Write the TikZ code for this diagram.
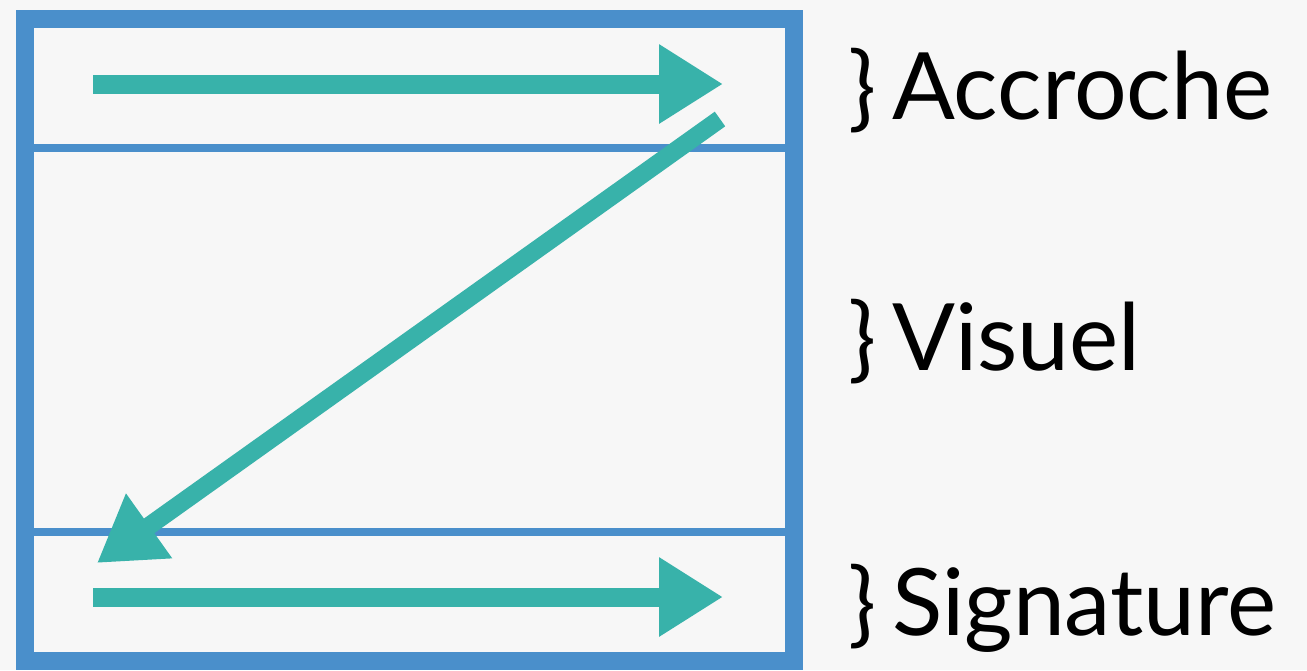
\documentclass[tikz,border=0pt]{standalone}
\usepackage{fontspec}
\setmainfont{Lato}
\usetikzlibrary{arrows.meta}
\definecolor{bg}{HTML}{F7F7F7}
\definecolor{frameblue}{HTML}{4A8FCB}
\definecolor{teal}{HTML}{38B2AA}
\begin{document}
\begin{tikzpicture}[x=1pt,y=-1pt,
  frame/.style={draw=frameblue,line width=18pt},
  sep/.style={draw=frameblue,line width=8pt},
  flow/.style={draw=teal,line width=19pt,-{Triangle[length=64pt,width=75pt]},color=teal},
  lbl/.style={anchor=base west,inner sep=0pt,font=\fontsize{93}{100}\selectfont}]
\fill[bg] (0,0) rectangle (1307,670);
\useasboundingbox (0,0) rectangle (1307,670);
\draw[frame] (25,19) rectangle (793.5,661);
\coordinate (s1l) at (25,148);
\coordinate (s1r) at (793.5,148);
\coordinate (s2l) at (25,532);
\coordinate (s2r) at (793.5,532);
\draw[sep] (s1l) -- (s1r);
\draw[sep] (s2l) -- (s2r);
\coordinate (a1s) at (93,84);
\coordinate (a1e) at (723,84);
\coordinate (dgs) at (720,119);
\coordinate (dge) at (97,563);
\coordinate (a2s) at (93,597);
\coordinate (a2e) at (723,597);
\draw[flow] (a1s) -- (a1e);
\draw[flow,line width=18pt] (dgs) -- (dge);
\draw[flow] (a2s) -- (a2e);
\node[lbl] (acc) at (848,119) {\}\hspace{16pt}Accroche};
\node[lbl] (vis) at (848,370) {\}\hspace{16pt}Visuel};
\node[lbl] (sig) at (848,635) {\}\hspace{16pt}Signature};
\end{tikzpicture}
\end{document}
